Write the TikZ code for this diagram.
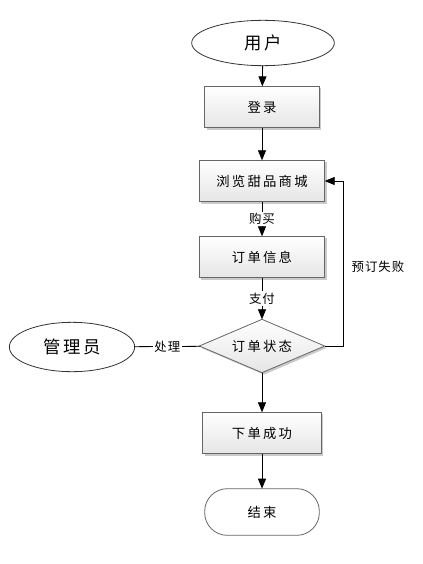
\documentclass[tikz,border=0pt]{standalone}
\usepackage{fontspec}
\setmainfont{Noto Sans CJK SC}
\usetikzlibrary{shapes.geometric,shapes.misc,arrows.meta,shadows}
\newcommand{\boxfont}{\fontsize{10}{12}\selectfont\addfontfeatures{LetterSpace=17}}
\newcommand{\bigfont}{\fontsize{13}{15}\selectfont\addfontfeatures{LetterSpace=16}}
\newcommand{\lblfont}{\fontsize{9.3}{11}\selectfont\addfontfeatures{LetterSpace=8}}
\begin{document}
\begin{tikzpicture}[x=0.75pt,y=-0.75pt,
  every node/.style={inner sep=0pt,outer sep=0pt},
  oval/.style={draw=black!80,ellipse,line width=0.6pt,fill=white,font=\bigfont},
  procbox/.style={draw=black!60,line width=0.6pt,minimum width=86pt,minimum height=31pt,
    top color=white,bottom color=black!10,font=\boxfont,
    drop shadow={shadow xshift=1.5pt,shadow yshift=-1.5pt,fill=black!35,opacity=0.6}},
  decision/.style={draw=black!60,line width=0.6pt,diamond,aspect=2.36,minimum width=94pt,minimum height=40pt,
    top color=white,bottom color=black!10,font=\boxfont,
    drop shadow={shadow xshift=1.5pt,shadow yshift=-1.5pt,fill=black!35,opacity=0.6}},
  term/.style={draw=black!60,line width=0.6pt,rounded corners=17pt,minimum width=86pt,minimum height=35pt,
    fill=white,font=\boxfont},
  conn/.style={draw=black,line width=0.6pt},
  arr/.style={conn,-{Triangle[length=7.5pt,width=6pt]}},
  lbl/.style={fill=white,font=\lblfont,inner sep=1pt}]
\useasboundingbox (0,0) rectangle (422,564);
\node[oval,minimum width=107pt,minimum height=34pt] (user) at (263,43) {用户};
\node[procbox] (login) at (262,107) {登录};
\node[procbox,minimum width=94pt] (browse) at (262,181) {浏览甜品商城};
\node[procbox,minimum width=94pt] (info) at (262,257) {订单信息};
\node[decision] (state) at (262,346) {订单状态};
\node[oval,minimum width=94pt,minimum height=37pt] (admin) at (72,347) {管理员};
\node[procbox,minimum width=89pt] (ok) at (262,433) {下单成功};
\node[term] (end) at (262,512) {结束};
\coordinate (r1) at (343,346);
\coordinate (r2) at (343,181);
\draw[arr] (user) -- (login);
\draw[arr] (login) -- (browse);
\draw[arr] (browse) -- node[lbl]{购买} (info);
\draw[arr] (info) -- node[lbl,pos=0.5]{支付} (state);
\draw[conn] (admin) -- node[lbl]{处理} (state);
\draw[arr] (state.east) -- (r1) -- (r2) -- (browse.east);
\node[font=\lblfont] (fail) at (378,267) {预订失败};
\draw[arr] (state) -- (ok);
\draw[arr] (ok) -- (end);
\end{tikzpicture}
\end{document}
